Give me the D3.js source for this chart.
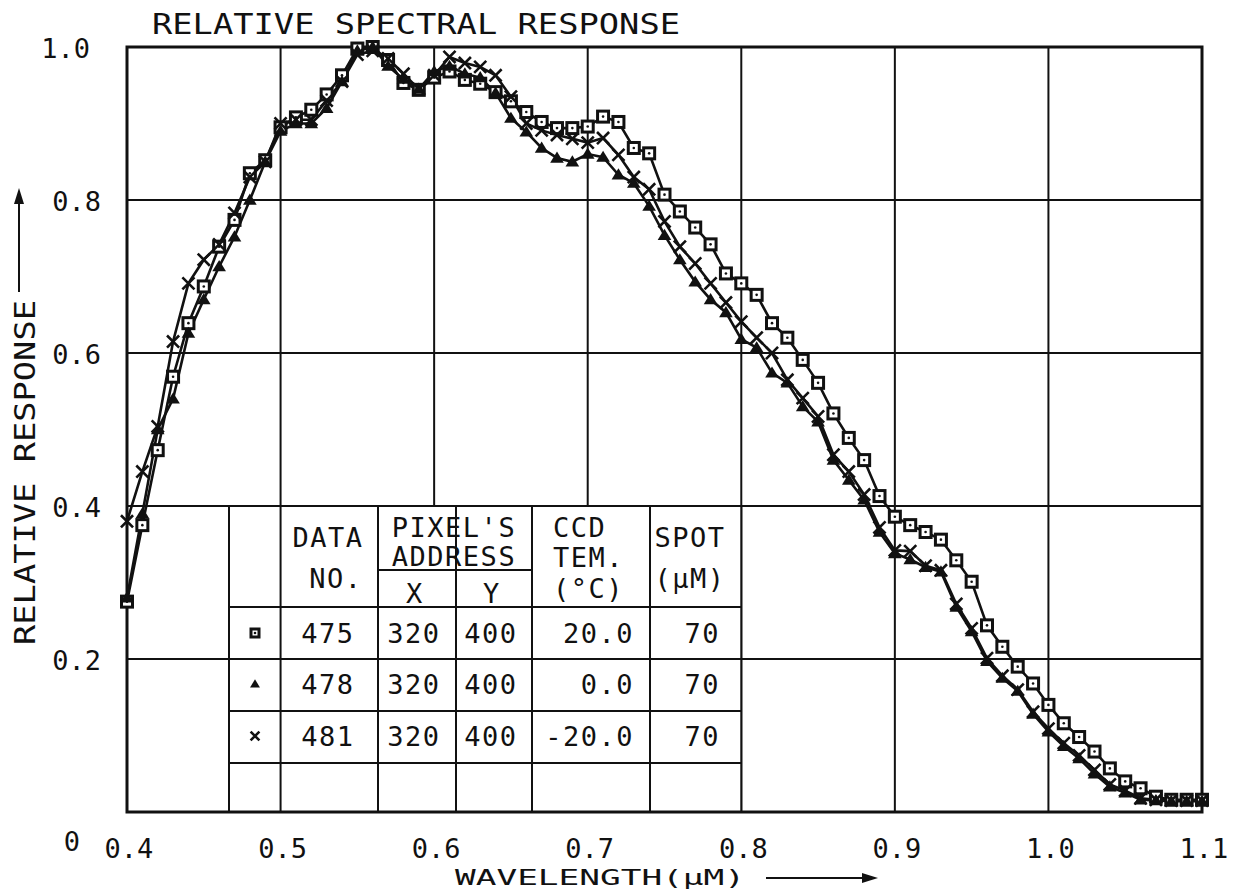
<!DOCTYPE html>
<html>
<head>
<meta charset="utf-8">
<script src="https://cdn.jsdelivr.net/npm/d3@7"></script>
<style>
    body { margin: 0; background: #fff; }
    text { font-family: "DejaVu Sans Mono", monospace; fill: #111; }
</style>
</head>
<body>
<div id="chart"></div>
<script>
const width = 1236;
const height = 892;
const margin = { top: 47, right: 34, bottom: 80, left: 127 };

// wavelength samples (um)
const wavelengths = [
    0.40, 0.41, 0.42, 0.43, 0.44, 0.45, 0.46, 0.47, 0.48, 0.49,
    0.50, 0.51, 0.52, 0.53, 0.54, 0.55, 0.56, 0.57, 0.58, 0.59,
    0.60, 0.61, 0.62, 0.63, 0.64, 0.65, 0.66, 0.67, 0.68, 0.69,
    0.70, 0.71, 0.72, 0.73, 0.74, 0.75, 0.76, 0.77, 0.78, 0.79,
    0.80, 0.81, 0.82, 0.83, 0.84, 0.85, 0.86, 0.87, 0.88, 0.89,
    0.90, 0.91, 0.92, 0.93, 0.94, 0.95, 0.96, 0.97, 0.98, 0.99,
    1.00, 1.01, 1.02, 1.03, 1.04, 1.05, 1.06, 1.07, 1.08, 1.09, 1.10
];

// data no. 475 (CCD 20.0 C)
const resp475 = [
    0.275, 0.375, 0.473, 0.569, 0.639, 0.687, 0.739, 0.774, 0.835, 0.852,
    0.895, 0.908, 0.918, 0.938, 0.963, 0.998, 1.000, 0.983, 0.953, 0.944,
    0.960, 0.968, 0.957, 0.952, 0.941, 0.929, 0.915, 0.902, 0.894, 0.894,
    0.896, 0.909, 0.902, 0.868, 0.861, 0.807, 0.785, 0.764, 0.742, 0.704,
    0.691, 0.676, 0.639, 0.620, 0.591, 0.561, 0.521, 0.489, 0.460, 0.413,
    0.386, 0.375, 0.366, 0.356, 0.329, 0.301, 0.244, 0.216, 0.190, 0.168,
    0.140, 0.116, 0.098, 0.079, 0.057, 0.040, 0.031, 0.020, 0.016, 0.016, 0.016
];

// data no. 478 (CCD 0.0 C)
const resp478 = [
    0.280, 0.390, 0.500, 0.540, 0.626, 0.670, 0.713, 0.752, 0.800, 0.850,
    0.890, 0.900, 0.900, 0.920, 0.955, 0.995, 1.000, 0.975, 0.958, 0.945,
    0.968, 0.975, 0.965, 0.960, 0.940, 0.907, 0.889, 0.868, 0.855, 0.850,
    0.860, 0.856, 0.833, 0.822, 0.792, 0.754, 0.722, 0.693, 0.670, 0.653,
    0.618, 0.607, 0.574, 0.561, 0.530, 0.510, 0.460, 0.434, 0.408, 0.366,
    0.338, 0.330, 0.320, 0.314, 0.268, 0.236, 0.197, 0.175, 0.158, 0.128,
    0.105, 0.086, 0.070, 0.050, 0.033, 0.025, 0.016, 0.015, 0.014, 0.014, 0.014
];

// data no. 481 (CCD -20.0 C)
const resp481 = [
    0.380, 0.445, 0.504, 0.615, 0.691, 0.722, 0.742, 0.783, 0.830, 0.850,
    0.900, 0.905, 0.905, 0.930, 0.955, 0.990, 0.995, 0.985, 0.965, 0.945,
    0.963, 0.987, 0.979, 0.974, 0.963, 0.935, 0.900, 0.891, 0.885, 0.880,
    0.875, 0.881, 0.859, 0.830, 0.814, 0.772, 0.739, 0.717, 0.691, 0.666,
    0.641, 0.620, 0.600, 0.565, 0.541, 0.517, 0.467, 0.445, 0.415, 0.372,
    0.342, 0.341, 0.322, 0.316, 0.272, 0.240, 0.201, 0.178, 0.160, 0.131,
    0.109, 0.090, 0.074, 0.055, 0.036, 0.028, 0.018, 0.016, 0.015, 0.015, 0.015
];

const xTicks = [0.4, 0.5, 0.6, 0.7, 0.8, 0.9, 1.0, 1.1];
const yTicks = [0, 0.2, 0.4, 0.6, 0.8, 1.0];

// legend table contents
const dataNo = ["475", "478", "481"];
const pixelX = ["320", "320", "320"];
const pixelY = ["400", "400", "400"];
const ccdTemp = ["20.0", "0.0", "-20.0"];
const spotSize = ["70", "70", "70"];
const markers = ["square", "triangle", "cross"];

const svg = d3.select("#chart")
    .append("svg")
    .attr("width", width)
    .attr("height", height);

const x = d3.scaleLinear().domain([0.4, 1.1]).range([margin.left, width - margin.right]);
const y = d3.scaleLinear().domain([0, 1]).range([height - margin.bottom, margin.top]);

const x0 = x(0.4), x1 = x(1.1), y0 = y(0), y1 = y(1);

// grid
const grid = svg.append("g");
xTicks.forEach(t => {
    grid.append("line")
        .attr("x1", x(t)).attr("x2", x(t))
        .attr("y1", y0).attr("y2", y1)
        .attr("stroke", "#111").attr("stroke-width", 2);
});
yTicks.forEach(t => {
    grid.append("line")
        .attr("x1", x0).attr("x2", x1)
        .attr("y1", y(t)).attr("y2", y(t))
        .attr("stroke", "#111").attr("stroke-width", 2);
});

// legend table
const colEdges = [229, x(0.5), 378, 456, 532, 650, x(0.8)];
const rowEdges = [y(0.4), 607, y(0.2), 711, 763, y(0)];
const table = svg.append("g");

table.append("rect")
    .attr("x", colEdges[0]).attr("y", rowEdges[0])
    .attr("width", colEdges[6] - colEdges[0])
    .attr("height", rowEdges[5] - rowEdges[0])
    .attr("fill", "#fff");

colEdges.forEach(cx => {
    table.append("line")
        .attr("x1", cx).attr("x2", cx)
        .attr("y1", rowEdges[0]).attr("y2", rowEdges[5])
        .attr("stroke", "#111").attr("stroke-width", 2);
});
rowEdges.forEach(ry => {
    table.append("line")
        .attr("x1", colEdges[0]).attr("x2", colEdges[6])
        .attr("y1", ry).attr("y2", ry)
        .attr("stroke", "#111").attr("stroke-width", 2);
});
table.append("line")
    .attr("x1", colEdges[2]).attr("x2", colEdges[4])
    .attr("y1", 570).attr("y2", 570)
    .attr("stroke", "#111").attr("stroke-width", 2);

const cellText = (tx, ty, str, anchor) => table.append("text")
    .attr("x", tx).attr("y", ty)
    .attr("text-anchor", anchor || "middle")
    .style("font-size", "27px")
    .style("letter-spacing", "1.5px")
    .text(str);

cellText(328, 547, "DATA");
cellText(336, 588, "NO.");
cellText(454, 537, "PIXEL'S");
cellText(454, 566, "ADDRESS");
cellText(415, 603, "X");
cellText(492, 603, "Y");
cellText(553, 537, "CCD", "start");
cellText(553, 567, "TEM.", "start");
cellText(553, 598, "(°C)", "start");
cellText(690, 547, "SPOT");
cellText(690, 588, "(μM)");

const rowBase = [643, 694, 746];
dataNo.forEach((d, i) => {
    cellText(328, rowBase[i], d);
    cellText(414, rowBase[i], pixelX[i]);
    cellText(491, rowBase[i], pixelY[i]);
    cellText(634, rowBase[i], ccdTemp[i], "end");
    cellText(720, rowBase[i], spotSize[i], "end");
});

// marker drawing
function drawMarker(g, type, cx, cy, s) {
    if (type === "square") {
        g.append("rect")
            .attr("x", cx - s / 2).attr("y", cy - s / 2)
            .attr("width", s).attr("height", s)
            .attr("fill", "#fff").attr("stroke", "#111").attr("stroke-width", 3);
        g.append("circle").attr("cx", cx).attr("cy", cy).attr("r", 1.3).attr("fill", "#111");
    } else if (type === "triangle") {
        const h = s * 0.95;
        g.append("path")
            .attr("d", `M${cx},${cy - h * 0.62}L${cx + s * 0.62},${cy + h * 0.45}L${cx - s * 0.62},${cy + h * 0.45}Z`)
            .attr("fill", "#111");
    } else {
        const r = s * 0.55;
        g.append("path")
            .attr("d", `M${cx - r},${cy - r}L${cx + r},${cy + r}M${cx - r},${cy + r}L${cx + r},${cy - r}`)
            .attr("stroke", "#111").attr("stroke-width", 2.6).attr("fill", "none");
    }
}

markers.forEach((m, i) => drawMarker(table, m, 255, rowBase[i] - 10, 8));

// frame
svg.append("rect")
    .attr("x", x0).attr("y", y1)
    .attr("width", x1 - x0).attr("height", y0 - y1)
    .attr("fill", "none").attr("stroke", "#111").attr("stroke-width", 3);

// curves
const seriesList = [
    { values: resp475, marker: "square" },
    { values: resp478, marker: "triangle" },
    { values: resp481, marker: "cross" }
];

const line = d3.line()
    .x(d => x(d[0]))
    .y(d => y(d[1]));

const curves = svg.append("g");
seriesList.forEach(s => {
    const pts = wavelengths.map((w, i) => [w, s.values[i]]);
    curves.append("path")
        .datum(pts)
        .attr("fill", "none")
        .attr("stroke", "#111")
        .attr("stroke-width", 2.6)
        .attr("d", line);
});
seriesList.forEach(s => {
    const g = curves.append("g");
    wavelengths.forEach((w, i) => drawMarker(g, s.marker, x(w), y(s.values[i]), 11));
});

// tick labels
const labelStyle = sel => sel.style("font-size", "27px");

xTicks.forEach(t => {
    svg.append("text")
        .attr("x", x(t) + 2).attr("y", 858)
        .attr("text-anchor", "middle")
        .call(labelStyle)
        .text(d3.format(".1f")(t));
});

yTicks.forEach(t => {
    let tx = 101, ty = y(t) + 11;
    if (t === 1) tx = 90;
    if (t === 0) { tx = 80; ty = 851; }
    svg.append("text")
        .attr("x", tx).attr("y", ty)
        .attr("text-anchor", "end")
        .call(labelStyle)
        .text(t === 0 ? "0" : d3.format(".1f")(t));
});

// titles
svg.append("text")
    .attr("x", 152).attr("y", 34)
    .attr("textLength", 528)
    .attr("lengthAdjust", "spacingAndGlyphs")
    .style("font-size", "29px")
    .text("RELATIVE SPECTRAL RESPONSE");

svg.append("text")
    .attr("transform", "translate(35,645) rotate(-90)")
    .attr("x", 0).attr("y", 0)
    .attr("textLength", 345)
    .attr("lengthAdjust", "spacingAndGlyphs")
    .style("font-size", "29px")
    .text("RELATIVE RESPONSE");

svg.append("text")
    .attr("x", 455).attr("y", 885)
    .attr("textLength", 290)
    .attr("lengthAdjust", "spacingAndGlyphs")
    .style("font-size", "22px")
    .text("WAVELENGTH(μM)");

// arrows
svg.append("line")
    .attr("x1", 19).attr("x2", 19).attr("y1", 292).attr("y2", 200)
    .attr("stroke", "#111").attr("stroke-width", 2);
svg.append("path")
    .attr("d", "M19,188L14,204L24,204Z")
    .attr("fill", "#111");

svg.append("line")
    .attr("x1", 766).attr("x2", 866).attr("y1", 878).attr("y2", 878)
    .attr("stroke", "#111").attr("stroke-width", 2);
svg.append("path")
    .attr("d", "M878,878L862,873L862,883Z")
    .attr("fill", "#111");
</script>
</body>
</html>
